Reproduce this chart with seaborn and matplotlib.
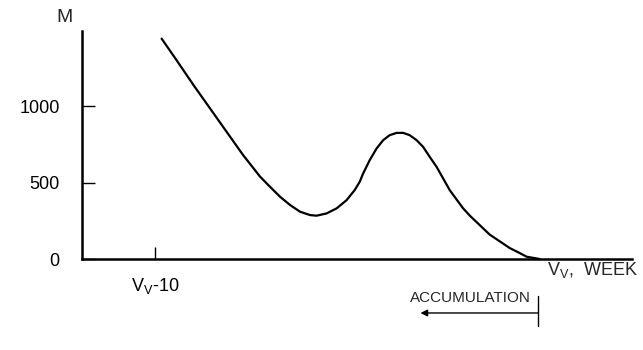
import matplotlib
matplotlib.use("Agg")
import matplotlib.pyplot as plt
import seaborn as sns
import pandas as pd

# weeks relative to V_v and the quantity M
weeks = [-9.83, -9.44, -9.00, -8.57, -8.14, -7.71, -7.27, -7.01, -6.75, -6.49,
         -6.23, -5.97, -5.80, -5.54, -5.28, -5.02, -4.81, -4.68, -4.59, -4.42,
         -4.24, -4.07, -3.90, -3.72, -3.55, -3.38, -3.20, -3.03, -2.86, -2.68,
         -2.51, -2.34, -2.00, -1.82, -1.30, -0.78, -0.52, -0.34, 0.0]
m_values = [1445, 1303, 1140, 987, 834, 681, 540, 473, 408, 354,
            310, 288, 284, 299, 332, 386, 452, 506, 561, 648,
            725, 779, 812, 827, 827, 812, 779, 735, 670, 604,
            528, 452, 335, 285, 160, 72, 39, 15, 0]

y_ticks = [0, 500, 1000]
y_tick_labels = ["0", "500", "1000"]
x_ticks = [-10]
x_tick_labels = [r"V$_\mathregular{V}$-10"]

sns.set_style("ticks")
plt.rcParams["font.family"] = ["Liberation Sans", "DejaVu Sans"]
plt.rcParams["mathtext.fontset"] = "custom"
plt.rcParams["mathtext.rm"] = "Liberation Sans"

df = pd.DataFrame({"week": weeks, "M": m_values})

fig = plt.figure(figsize=(6.43, 3.5), dpi=100, facecolor="white")
ax = fig.add_axes([82 / 643, 91 / 350, 550 / 643, 228 / 350])

sns.lineplot(data=df, x="week", y="M", ax=ax, color="black", linewidth=1.6,
             solid_joinstyle="round", solid_capstyle="round")

ax.set_xlim(-11.9, 2.4)
ax.set_ylim(0, 1495)
ax.set_xlabel("")
ax.set_ylabel("")

ax.set_yticks(y_ticks)
ax.set_yticklabels(y_tick_labels, fontsize=13)
ax.set_xticks(x_ticks)
ax.set_xticklabels(x_tick_labels, fontsize=13)
ax.tick_params(axis="both", direction="in", length=9, width=1.0, colors="black")
ax.tick_params(axis="y", pad=16)
ax.tick_params(axis="x", pad=12)

for side in ("top", "right"):
    ax.spines[side].set_visible(False)
for side in ("left", "bottom"):
    ax.spines[side].set_linewidth(1.8)
    ax.spines[side].set_color("black")

# axis titles
ax.text(-0.031, 1.06, "M", transform=ax.transAxes, fontsize=14,
        ha="center", va="center")
ax.text(0.2, -75, r"V$_\mathregular{V}$,  WEEK", fontsize=13,
        ha="left", va="center", clip_on=False)

# accumulation marker below the axis
ax.text(-1.80, -255, "ACCUMULATION", fontsize=11, ha="center", va="center",
        clip_on=False)
ax.annotate("", xy=(-3.1, -354), xytext=(-0.05, -354), annotation_clip=False,
            arrowprops=dict(arrowstyle="-|>", color="black", lw=1.0,
                            mutation_scale=10, shrinkA=0, shrinkB=0))
ax.plot([-0.05, -0.05], [-242, -439], color="black", lw=1.0, clip_on=False)

fig.savefig("out.png", dpi=100, facecolor="white")
